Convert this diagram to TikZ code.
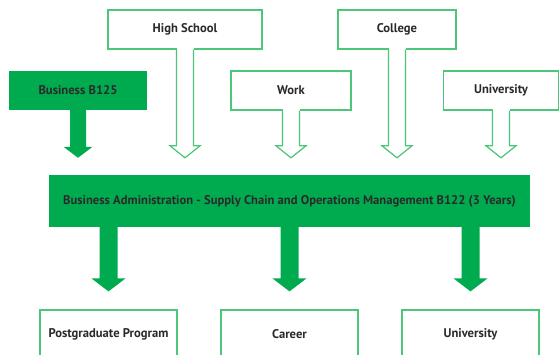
\documentclass[tikz,border=0pt]{standalone}
\usepackage{fontspec}
\setmainfont{PT Sans}
\usetikzlibrary{calc}
\definecolor{gfill}{HTML}{00AB4F}
\definecolor{gline}{HTML}{4CC77A}
\definecolor{txt}{HTML}{2A2A2A}
\tikzset{
  obox/.style={draw=gline, line width=1.2pt, fill=white, inner sep=0pt, text=txt, font=\bfseries\fontsize{12.6}{14}\selectfont},
  fbox/.style={fill=gfill, inner sep=0pt, text=txt, font=\bfseries\fontsize{12.6}{14}\selectfont},
  oline/.style={draw=gline, line width=1.2pt, line join=miter},
}
% hollow arrow from box #1 down towards #2
\newcommand\hollowarrow[2]{%
  \path (#1.south) coordinate (s) ($(#1.south |- #2.north)+(0,-17)$) coordinate (t);
  \fill[white] ($(s)+(-8.5,-1.2)$) rectangle ($(t)+(8.5,-12)$);
  \draw[oline] ($(s)+(-8.5,0)$) -- ($(t)+(-8.5,-12)$) -- ($(t)+(-15,-12)$) -- (t)
     -- ($(t)+(15,-12)$) -- ($(t)+(8.5,-12)$) -- ($(s)+(8.5,0)$);
}
% solid arrow: #1 source point, #2 tip, #3 stem half, #4 head half, #5 head length
\newcommand\solidarrow[5]{%
  \fill[gfill] ($(#1)+(-#3,-0.5)$) -- ($(#2)+(-#3,-#5)$) -- ($(#2)+(-#4,-#5)$) -- (#2)
     -- ($(#2)+(#4,-#5)$) -- ($(#2)+(#3,-#5)$) -- ($(#1)+(#3,-0.5)$) -- cycle;
}
\begin{document}
\begin{tikzpicture}[x=1pt,y=-1pt]
\useasboundingbox (0,0) rectangle (560,355);
\clip (0,0) rectangle (560,355);
\fill[white] (0,0) rectangle (560,355);

% main box
\node[fbox, minimum width=481pt, minimum height=52pt] (main) at (289.5,201)
  {Business Administration - Supply Chain and Operations Management B122 (3 Years)};

% top boxes
\node[obox, minimum width=154pt, minimum height=39pt] (hs) at (185,29.5) {High School};
\node[obox, minimum width=118pt, minimum height=39pt] (college) at (397,29.5) {College};
\node[fbox, minimum width=138pt, minimum height=39pt] (b125) at (78,90.5) {Business B125};
\node[obox, minimum width=120pt, minimum height=39pt] (work) at (291,90.5) {Work};
\node[obox, minimum width=115pt, minimum height=39pt] (univtop) at (501,90.5) {University};

\hollowarrow{hs}{main}
\hollowarrow{college}{main}
\hollowarrow{work}{main}
\hollowarrow{univtop}{main}

\path (b125.south) coordinate (bs) ($(b125.south |- main.north)+(0,-17)$) coordinate (bt);
\solidarrow{bs}{bt}{8}{14.5}{11}

% bottom boxes
\node[obox, minimum width=137pt, minimum height=48pt] (pg) at (108.5,334) {Postgraduate Program};
\node[obox, minimum width=137pt, minimum height=48pt] (career) at (289.5,334) {Career};
\node[obox, minimum width=137pt, minimum height=48pt] (univbot) at (470.5,334) {University};

\path (pg.north |- main.south) coordinate (p1) ($(pg.north)+(0,-18)$) coordinate (p2);
\solidarrow{p1}{p2}{9}{17}{13}
\path (career.north |- main.south) coordinate (c1) ($(career.north)+(0,-18)$) coordinate (c2);
\solidarrow{c1}{c2}{9}{17}{13}
\path (univbot.north |- main.south) coordinate (u1) ($(univbot.north)+(0,-18)$) coordinate (u2);
\solidarrow{u1}{u2}{9}{17}{13}
\end{tikzpicture}
\end{document}
